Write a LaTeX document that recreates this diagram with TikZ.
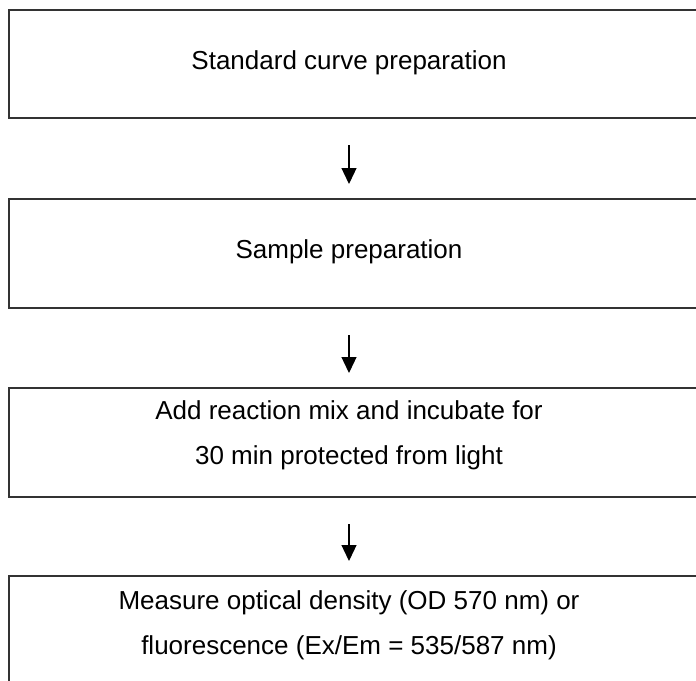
\documentclass[tikz,border=0pt]{standalone}
\usepackage{fontspec}
\setmainfont{Liberation Sans}
\usetikzlibrary{arrows.meta}
\begin{document}
\begin{tikzpicture}[x=1pt,y=1pt,
  stepbox/.style={draw=black!80, line width=2pt, rectangle, anchor=north west,
    minimum width=700pt, inner sep=0pt},
  steptext/.style={align=center, font=\fontsize{26}{45}\selectfont, inner sep=0pt},
  flow/.style={line width=1.3pt, -{Triangle[width=15pt,length=16pt]},
    shorten <=26pt, shorten >=14pt}]
\useasboundingbox (0,0) rectangle (696,-680);
\clip (0,0) rectangle (696,-680);

% boxes (they run past the right and bottom edges)
\node[stepbox, minimum height=108pt] (b1) at (8,-9) {};
\node[stepbox, minimum height=109pt] (b2) at (8,-198) {};
\node[stepbox, minimum height=109pt] (b3) at (8,-387) {};
\node[stepbox, minimum height=140pt] (b4) at (8,-575) {};

% step texts
\node[steptext] (t1) at (349,-63) {Standard curve preparation};
\node[steptext] (t2) at (349,-252) {Sample preparation};
\node[steptext] (t3) at (349,-435) {Add reaction mix and incubate for\\30 min protected from light};
\node[steptext] (t4) at (349,-625) {Measure optical density (OD 570 nm) or\\fluorescence (Ex/Em = 535/587 nm)};

% arrows between steps
\draw[flow] (t1.center |- b1.south) -- (t1.center |- b2.north);
\draw[flow] (t1.center |- b2.south) -- (t1.center |- b3.north);
\draw[flow] (t1.center |- b3.south) -- (t1.center |- b4.north);
\end{tikzpicture}
\end{document}
